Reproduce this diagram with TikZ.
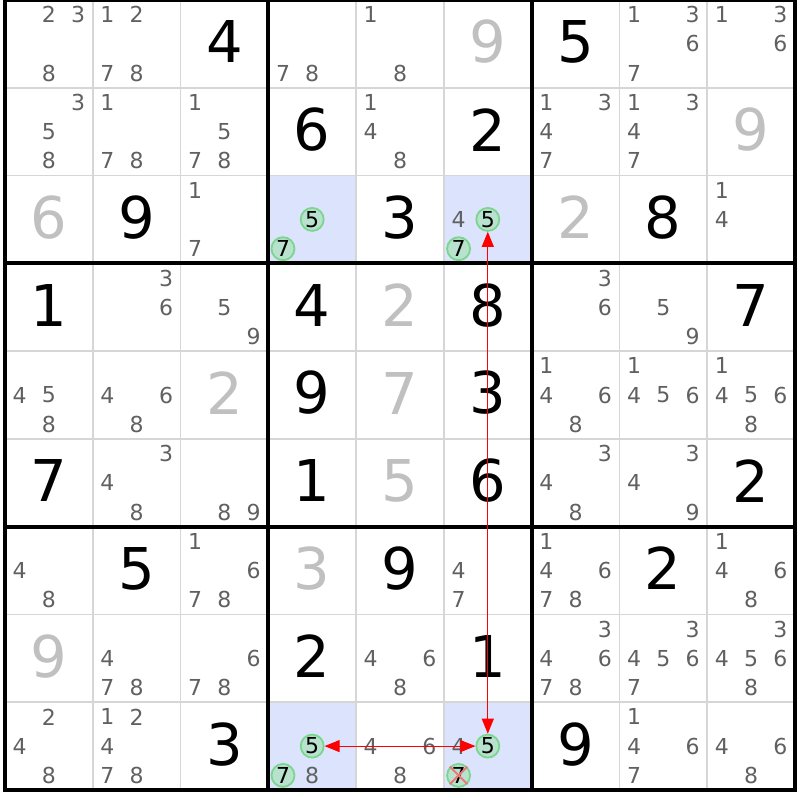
\documentclass[tikz,border=0pt]{standalone}
\usepackage{fontspec}
\setmainfont{DejaVu Sans}
\usepackage{tikz}
\usetikzlibrary{arrows.meta}

\definecolor{candgray}{RGB}{96,96,96}
\definecolor{solvedgray}{RGB}{192,192,192}
\definecolor{thingray}{RGB}{214,214,214}
\definecolor{hiblue}{RGB}{220,228,253}
\definecolor{ringgreen}{RGB}{122,214,140}
\definecolor{ringfill}{RGB}{184,226,206}
\definecolor{xred}{RGB}{240,118,118}

\begin{document}
\begin{tikzpicture}[x=0.5pt,y=0.5pt,yscale=-1,
  given/.style={inner sep=0pt,font=\fontsize{28.8}{30}\selectfont,text=black},
  solved/.style={inner sep=0pt,font=\fontsize{28.8}{30}\selectfont,text=solvedgray},
  cand/.style={inner sep=0pt,font=\fontsize{11}{12}\selectfont,text=candgray},
  circ/.style={circle,draw=ringgreen,fill=ringfill,line width=0.9pt,minimum size=11.5pt,inner sep=0pt,font=\fontsize{11}{12}\selectfont,text=black},
  xmark/.style={draw=xred,line width=1pt},
  strongln/.style={red,line width=0.5pt,{Triangle[length=7.5pt,width=6pt]}-{Triangle[length=7.5pt,width=6pt]}}]

\useasboundingbox (0,0) rectangle (800,800);

%Shape: Rectangle [id:hl1]
\fill [hiblue] (268.33,175.56) rectangle (356.11,263.33);
%Shape: Rectangle [id:hl2]
\fill [hiblue] (443.89,175.56) rectangle (531.67,263.33);
%Shape: Rectangle [id:hl3]
\fill [hiblue] (268.33,702.22) rectangle (356.11,790);
%Shape: Rectangle [id:hl4]
\fill [hiblue] (443.89,702.22) rectangle (531.67,790);

%Straight Lines [id:thin]
\draw [thingray, line width=0.75pt] (92.78,0) -- (92.78,790) ;
\draw [thingray, line width=0.75pt] (180.56,0) -- (180.56,790) ;
\draw [thingray, line width=0.75pt] (356.11,0) -- (356.11,790) ;
\draw [thingray, line width=0.75pt] (443.89,0) -- (443.89,790) ;
\draw [thingray, line width=0.75pt] (619.44,0) -- (619.44,790) ;
\draw [thingray, line width=0.75pt] (707.22,0) -- (707.22,790) ;
\draw [thingray, line width=0.75pt] (5,87.78) -- (795,87.78) ;
\draw [thingray, line width=0.75pt] (5,175.56) -- (795,175.56) ;
\draw [thingray, line width=0.75pt] (5,351.11) -- (795,351.11) ;
\draw [thingray, line width=0.75pt] (5,438.89) -- (795,438.89) ;
\draw [thingray, line width=0.75pt] (5,614.44) -- (795,614.44) ;
\draw [thingray, line width=0.75pt] (5,702.22) -- (795,702.22) ;

%Straight Lines [id:thick]
\draw [black, line width=2pt] (268.33,0) -- (268.33,790) ;
\draw [black, line width=2pt] (531.67,0) -- (531.67,790) ;
\draw [black, line width=2pt] (5,263.33) -- (795,263.33) ;
\draw [black, line width=2pt] (5,526.67) -- (795,526.67) ;
%Shape: Rectangle [id:frame]
\draw [black, line width=2pt] (5,0) rectangle (795,790) ;

% Row 1
\node [cand] (r1c1d2) at (48.9,14.6) {2};
\node [cand] (r1c1d3) at (78.2,14.6) {3};
\node [cand] (r1c1d8) at (48.9,73.2) {8};
\node [cand] (r1c2d1) at (107.4,14.6) {1};
\node [cand] (r1c2d2) at (136.7,14.6) {2};
\node [cand] (r1c2d7) at (107.4,73.2) {7};
\node [cand] (r1c2d8) at (136.7,73.2) {8};
\node [given] (r1c3) at (224.4,41.9) {4};
\node [cand] (r1c4d7) at (283.0,73.2) {7};
\node [cand] (r1c4d8) at (312.2,73.2) {8};
\node [cand] (r1c5d1) at (370.7,14.6) {1};
\node [cand] (r1c5d8) at (400.0,73.2) {8};
\node [solved] (r1c6) at (487.8,41.9) {9};
\node [given] (r1c7) at (575.6,41.9) {5};
\node [cand] (r1c8d1) at (634.1,14.6) {1};
\node [cand] (r1c8d3) at (692.6,14.6) {3};
\node [cand] (r1c8d6) at (692.6,43.9) {6};
\node [cand] (r1c8d7) at (634.1,73.2) {7};
\node [cand] (r1c9d1) at (721.9,14.6) {1};
\node [cand] (r1c9d3) at (780.4,14.6) {3};
\node [cand] (r1c9d6) at (780.4,43.9) {6};

% Row 2
\node [cand] (r2c1d3) at (78.2,102.4) {3};
\node [cand] (r2c1d5) at (48.9,131.7) {5};
\node [cand] (r2c1d8) at (48.9,160.9) {8};
\node [cand] (r2c2d1) at (107.4,102.4) {1};
\node [cand] (r2c2d7) at (107.4,160.9) {7};
\node [cand] (r2c2d8) at (136.7,160.9) {8};
\node [cand] (r2c3d1) at (195.2,102.4) {1};
\node [cand] (r2c3d5) at (224.4,131.7) {5};
\node [cand] (r2c3d7) at (195.2,160.9) {7};
\node [cand] (r2c3d8) at (224.4,160.9) {8};
\node [given] (r2c4) at (312.2,129.7) {6};
\node [cand] (r2c5d1) at (370.7,102.4) {1};
\node [cand] (r2c5d4) at (370.7,131.7) {4};
\node [cand] (r2c5d8) at (400.0,160.9) {8};
\node [given] (r2c6) at (487.8,129.7) {2};
\node [cand] (r2c7d1) at (546.3,102.4) {1};
\node [cand] (r2c7d3) at (604.8,102.4) {3};
\node [cand] (r2c7d4) at (546.3,131.7) {4};
\node [cand] (r2c7d7) at (546.3,160.9) {7};
\node [cand] (r2c8d1) at (634.1,102.4) {1};
\node [cand] (r2c8d3) at (692.6,102.4) {3};
\node [cand] (r2c8d4) at (634.1,131.7) {4};
\node [cand] (r2c8d7) at (634.1,160.9) {7};
\node [solved] (r2c9) at (751.1,129.7) {9};

% Row 3
\node [solved] (r3c1) at (48.9,217.4) {6};
\node [given] (r3c2) at (136.7,217.4) {9};
\node [cand] (r3c3d1) at (195.2,190.2) {1};
\node [cand] (r3c3d7) at (195.2,248.7) {7};
\node [circ] (r3c4d5) at (312.2,219.4) {5};
\node [circ] (r3c4d7) at (283.0,248.7) {7};
\node [given] (r3c5) at (400.0,217.4) {3};
\node [cand] (r3c6d4) at (458.6,219.4) {4};
\node [circ] (r3c6d5) at (487.8,219.4) {5};
\node [circ] (r3c6d7) at (458.6,248.7) {7};
\node [solved] (r3c7) at (575.6,217.4) {2};
\node [given] (r3c8) at (663.3,217.4) {8};
\node [cand] (r3c9d1) at (721.9,190.2) {1};
\node [cand] (r3c9d4) at (721.9,219.4) {4};

% Row 4
\node [given] (r4c1) at (48.9,305.2) {1};
\node [cand] (r4c2d3) at (166.0,278.0) {3};
\node [cand] (r4c2d6) at (166.0,307.2) {6};
\node [cand] (r4c3d5) at (224.4,307.2) {5};
\node [cand] (r4c3d9) at (253.7,336.5) {9};
\node [given] (r4c4) at (312.2,305.2) {4};
\node [solved] (r4c5) at (400.0,305.2) {2};
\node [given] (r4c6) at (487.8,305.2) {8};
\node [cand] (r4c7d3) at (604.8,278.0) {3};
\node [cand] (r4c7d6) at (604.8,307.2) {6};
\node [cand] (r4c8d5) at (663.3,307.2) {5};
\node [cand] (r4c8d9) at (692.6,336.5) {9};
\node [given] (r4c9) at (751.1,305.2) {7};

% Row 5
\node [cand] (r5c1d4) at (19.6,395.0) {4};
\node [cand] (r5c1d5) at (48.9,395.0) {5};
\node [cand] (r5c1d8) at (48.9,424.3) {8};
\node [cand] (r5c2d4) at (107.4,395.0) {4};
\node [cand] (r5c2d6) at (166.0,395.0) {6};
\node [cand] (r5c2d8) at (136.7,424.3) {8};
\node [solved] (r5c3) at (224.4,393.0) {2};
\node [given] (r5c4) at (312.2,393.0) {9};
\node [solved] (r5c5) at (400.0,393.0) {7};
\node [given] (r5c6) at (487.8,393.0) {3};
\node [cand] (r5c7d1) at (546.3,365.7) {1};
\node [cand] (r5c7d4) at (546.3,395.0) {4};
\node [cand] (r5c7d6) at (604.8,395.0) {6};
\node [cand] (r5c7d8) at (575.6,424.3) {8};
\node [cand] (r5c8d1) at (634.1,365.7) {1};
\node [cand] (r5c8d4) at (634.1,395.0) {4};
\node [cand] (r5c8d5) at (663.3,395.0) {5};
\node [cand] (r5c8d6) at (692.6,395.0) {6};
\node [cand] (r5c9d1) at (721.9,365.7) {1};
\node [cand] (r5c9d4) at (721.9,395.0) {4};
\node [cand] (r5c9d5) at (751.1,395.0) {5};
\node [cand] (r5c9d6) at (780.4,395.0) {6};
\node [cand] (r5c9d8) at (751.1,424.3) {8};

% Row 6
\node [given] (r6c1) at (48.9,480.8) {7};
\node [cand] (r6c2d3) at (166.0,453.5) {3};
\node [cand] (r6c2d4) at (107.4,482.8) {4};
\node [cand] (r6c2d8) at (136.7,512.0) {8};
\node [cand] (r6c3d8) at (224.4,512.0) {8};
\node [cand] (r6c3d9) at (253.7,512.0) {9};
\node [given] (r6c4) at (312.2,480.8) {1};
\node [solved] (r6c5) at (400.0,480.8) {5};
\node [given] (r6c6) at (487.8,480.8) {6};
\node [cand] (r6c7d3) at (604.8,453.5) {3};
\node [cand] (r6c7d4) at (546.3,482.8) {4};
\node [cand] (r6c7d8) at (575.6,512.0) {8};
\node [cand] (r6c8d3) at (692.6,453.5) {3};
\node [cand] (r6c8d4) at (634.1,482.8) {4};
\node [cand] (r6c8d9) at (692.6,512.0) {9};
\node [given] (r6c9) at (751.1,480.8) {2};

% Row 7
\node [cand] (r7c1d4) at (19.6,570.6) {4};
\node [cand] (r7c1d8) at (48.9,599.8) {8};
\node [given] (r7c2) at (136.7,568.6) {5};
\node [cand] (r7c3d1) at (195.2,541.3) {1};
\node [cand] (r7c3d6) at (253.7,570.6) {6};
\node [cand] (r7c3d7) at (195.2,599.8) {7};
\node [cand] (r7c3d8) at (224.4,599.8) {8};
\node [solved] (r7c4) at (312.2,568.6) {3};
\node [given] (r7c5) at (400.0,568.6) {9};
\node [cand] (r7c6d4) at (458.6,570.6) {4};
\node [cand] (r7c6d7) at (458.6,599.8) {7};
\node [cand] (r7c7d1) at (546.3,541.3) {1};
\node [cand] (r7c7d4) at (546.3,570.6) {4};
\node [cand] (r7c7d6) at (604.8,570.6) {6};
\node [cand] (r7c7d7) at (546.3,599.8) {7};
\node [cand] (r7c7d8) at (575.6,599.8) {8};
\node [given] (r7c8) at (663.3,568.6) {2};
\node [cand] (r7c9d1) at (721.9,541.3) {1};
\node [cand] (r7c9d4) at (721.9,570.6) {4};
\node [cand] (r7c9d6) at (780.4,570.6) {6};
\node [cand] (r7c9d8) at (751.1,599.8) {8};

% Row 8
\node [solved] (r8c1) at (48.9,656.3) {9};
\node [cand] (r8c2d4) at (107.4,658.3) {4};
\node [cand] (r8c2d7) at (107.4,687.6) {7};
\node [cand] (r8c2d8) at (136.7,687.6) {8};
\node [cand] (r8c3d6) at (253.7,658.3) {6};
\node [cand] (r8c3d7) at (195.2,687.6) {7};
\node [cand] (r8c3d8) at (224.4,687.6) {8};
\node [given] (r8c4) at (312.2,656.3) {2};
\node [cand] (r8c5d4) at (370.7,658.3) {4};
\node [cand] (r8c5d6) at (429.3,658.3) {6};
\node [cand] (r8c5d8) at (400.0,687.6) {8};
\node [given] (r8c6) at (487.8,656.3) {1};
\node [cand] (r8c7d3) at (604.8,629.1) {3};
\node [cand] (r8c7d4) at (546.3,658.3) {4};
\node [cand] (r8c7d6) at (604.8,658.3) {6};
\node [cand] (r8c7d7) at (546.3,687.6) {7};
\node [cand] (r8c7d8) at (575.6,687.6) {8};
\node [cand] (r8c8d3) at (692.6,629.1) {3};
\node [cand] (r8c8d4) at (634.1,658.3) {4};
\node [cand] (r8c8d5) at (663.3,658.3) {5};
\node [cand] (r8c8d6) at (692.6,658.3) {6};
\node [cand] (r8c8d7) at (634.1,687.6) {7};
\node [cand] (r8c9d3) at (780.4,629.1) {3};
\node [cand] (r8c9d4) at (721.9,658.3) {4};
\node [cand] (r8c9d5) at (751.1,658.3) {5};
\node [cand] (r8c9d6) at (780.4,658.3) {6};
\node [cand] (r8c9d8) at (751.1,687.6) {8};

% Row 9
\node [cand] (r9c1d2) at (48.9,716.9) {2};
\node [cand] (r9c1d4) at (19.6,746.1) {4};
\node [cand] (r9c1d8) at (48.9,775.4) {8};
\node [cand] (r9c2d1) at (107.4,716.9) {1};
\node [cand] (r9c2d2) at (136.7,716.9) {2};
\node [cand] (r9c2d4) at (107.4,746.1) {4};
\node [cand] (r9c2d7) at (107.4,775.4) {7};
\node [cand] (r9c2d8) at (136.7,775.4) {8};
\node [given] (r9c3) at (224.4,744.1) {3};
\node [circ] (r9c4d5) at (312.2,746.1) {5};
\node [circ] (r9c4d7) at (283.0,775.4) {7};
\node [cand] (r9c4d8) at (312.2,775.4) {8};
\node [cand] (r9c5d4) at (370.7,746.1) {4};
\node [cand] (r9c5d6) at (429.3,746.1) {6};
\node [cand] (r9c5d8) at (400.0,775.4) {8};
\node [cand] (r9c6d4) at (458.6,746.1) {4};
\node [circ] (r9c6d5) at (487.8,746.1) {5};
\node [circ] (r9c6d7) at (458.6,775.4) {7};
\node [given] (r9c7) at (575.6,744.1) {9};
\node [cand] (r9c8d1) at (634.1,716.9) {1};
\node [cand] (r9c8d4) at (634.1,746.1) {4};
\node [cand] (r9c8d6) at (692.6,746.1) {6};
\node [cand] (r9c8d7) at (634.1,775.4) {7};
\node [cand] (r9c9d4) at (721.9,746.1) {4};
\node [cand] (r9c9d6) at (780.4,746.1) {6};
\node [cand] (r9c9d8) at (751.1,775.4) {8};

% eliminated 7
\draw [xmark] (r9c6d7.north west) -- (r9c6d7.south east) ;
\draw [xmark] (r9c6d7.north east) -- (r9c6d7.south west) ;

% strong links on 5
\draw [strongln] (r3c6d5) -- (r9c6d5) ;
\draw [strongln] (r9c4d5) -- (r9c6d5) ;

\end{tikzpicture}
\end{document}
